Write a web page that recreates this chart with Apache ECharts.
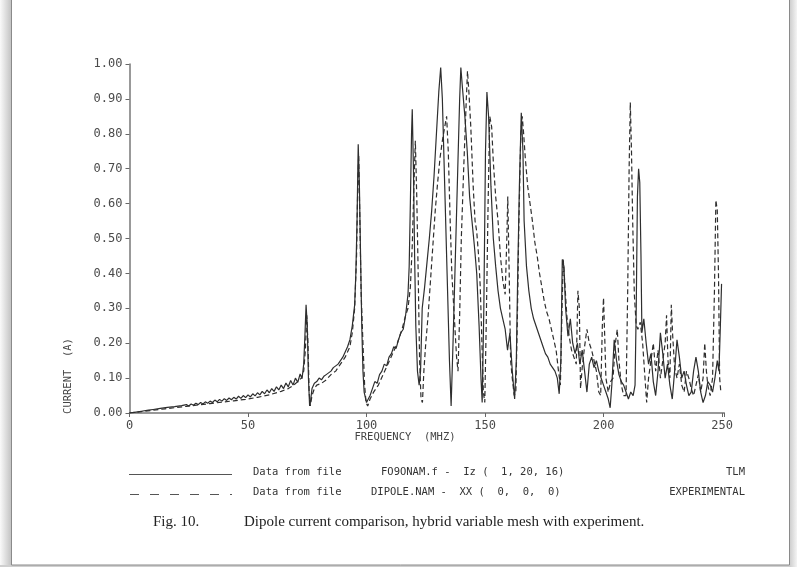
<!DOCTYPE html>
<html>
<head>
<meta charset="utf-8">
<script src="https://cdn.jsdelivr.net/npm/echarts@6/dist/echarts.min.js"></script>
<style>html,body{margin:0;padding:0;background:#fff;}#c{width:797px;height:567px;}</style>
</head>
<body>
<div id="c"></div>
<script>
// ---- data (frequency in MHz, current in A) ----
const tlmFreq = [0,2,5,8,10,13,16,19,22,24,25,26,27,28,29,30,31,32,33,34,35,36,37,38,39,40,41,42,43,44,45,46,47,48,49,50,51,52,53,54,55,56,57,58,59,60,61,62,63,64,65,66,67,68,69,70,71,72,72.8,73.5,74,74.5,75,75.5,76,76.5,77,78,79,80,81,82,83,84,85,86,87,88,89,90,91,92,93,94,95,95.5,96,96.5,97,97.5,98,98.5,99,100,100.6,101.5,102.5,103.5,104.5,105.5,106.5,107.5,108.5,109.5,110.5,111.5,112.5,113.5,114.5,115.5,116.5,117.5,118,118.5,119,119.3,119.8,120.3,120.8,121.5,122.2,122.8,123.5,124.5,125.5,126.5,127.5,128.5,129.5,130.5,131.3,132,133,134,135,135.7,136.5,137.5,138.5,139.3,139.8,140.5,141.5,142.5,143.5,144.5,145.5,146.5,147.5,148.3,148.8,149.5,150.2,150.8,151.5,152.5,153.5,154.5,155.5,156.5,157.5,158.5,159.5,160.5,161.5,162.5,163.2,163.8,164.5,165.3,166,166.5,167.5,168.5,169.5,170.5,171.5,172.5,173.5,174.5,175.5,176.5,177.5,178.5,179.5,180.5,181.3,182,182.6,183.3,184,185,186,187,188,189,190,191,192,193,194,195,196,197,198,199,200,201,202,202.8,203.5,204.5,205.5,206.5,207.5,208.5,209.5,210.5,211.5,212.5,213.3,213.8,214.3,214.8,215.3,215.8,216.2,217,218,219,220,221,222,223,224,225,226,227,228,229,230,231,232,233,234,235,236,237,238,239,240,241,242,243,244,245,246,247,248,248.7,249.3,249.8];
const tlmCurrent = [0,0.002,0.005,0.008,0.010,0.013,0.016,0.018,0.021,0.024,0.020,0.026,0.022,0.028,0.024,0.030,0.026,0.032,0.028,0.034,0.030,0.037,0.032,0.039,0.034,0.041,0.036,0.043,0.038,0.045,0.040,0.048,0.042,0.050,0.044,0.052,0.046,0.055,0.049,0.058,0.052,0.062,0.055,0.066,0.058,0.070,0.062,0.075,0.066,0.080,0.070,0.086,0.075,0.093,0.080,0.100,0.088,0.112,0.098,0.14,0.22,0.31,0.25,0.10,0.02,0.04,0.07,0.085,0.09,0.10,0.095,0.105,0.11,0.115,0.12,0.13,0.135,0.14,0.15,0.16,0.175,0.19,0.21,0.25,0.31,0.40,0.55,0.77,0.65,0.45,0.25,0.12,0.06,0.03,0.025,0.05,0.07,0.09,0.085,0.11,0.12,0.14,0.135,0.16,0.17,0.19,0.185,0.21,0.23,0.24,0.28,0.34,0.42,0.60,0.80,0.87,0.70,0.45,0.25,0.12,0.08,0.12,0.30,0.36,0.43,0.50,0.58,0.68,0.80,0.92,0.99,0.90,0.65,0.40,0.15,0.02,0.20,0.45,0.70,0.90,0.99,0.93,0.85,0.75,0.62,0.55,0.48,0.40,0.25,0.10,0.03,0.30,0.75,0.92,0.85,0.65,0.50,0.42,0.35,0.30,0.27,0.24,0.18,0.23,0.12,0.04,0.15,0.40,0.65,0.86,0.75,0.55,0.42,0.35,0.30,0.27,0.25,0.23,0.21,0.19,0.17,0.16,0.14,0.13,0.12,0.10,0.055,0.15,0.44,0.42,0.30,0.22,0.27,0.20,0.17,0.20,0.14,0.18,0.12,0.06,0.14,0.16,0.13,0.15,0.12,0.10,0.08,0.06,0.04,0.015,0.08,0.21,0.15,0.11,0.09,0.08,0.06,0.04,0.06,0.05,0.08,0.30,0.62,0.70,0.66,0.45,0.23,0.27,0.20,0.14,0.17,0.09,0.05,0.12,0.23,0.17,0.10,0.14,0.08,0.04,0.12,0.21,0.16,0.10,0.12,0.08,0.05,0.06,0.12,0.16,0.12,0.06,0.03,0.05,0.09,0.08,0.06,0.10,0.15,0.12,0.25,0.37];

const expFreq = [0,5,10,15,20,24,29,34,39,44,49,54,59,64,67,69,71,72.5,73.5,74.2,74.8,75.3,75.8,76.3,77,78,79,81,83,85,87,89,91,93,94,95,95.8,96.3,96.7,97.2,97.7,98.5,99.2,99.8,100.5,101.5,103,105,107,109,111,113,115,116.5,117.5,118.5,119.3,120,120.6,121.2,121.8,122.4,123,123.6,124.2,125,126,127,128,129,130,131,132,133,133.8,134.5,135.3,136,137,138,138.6,139.3,140,141,142,142.6,143.2,144,145,145.8,146.5,147.3,148,148.7,149.3,149.9,150.5,151.3,152,152.8,153.5,154.5,155.5,156.5,157.5,158.5,159.2,159.6,160.2,160.8,161.5,162.3,163,163.6,164.3,165.1,165.7,166.3,167,168,169,170,171,172,173,174,175,176,177,178,179,180,181,181.8,182.5,183,183.6,184.5,185.5,186.5,187.5,188.5,189.2,189.8,190.3,191,192,193,194,195,196,197,198,198.8,199.5,200,200.5,201,202,203,204,205,205.8,206.5,207.5,208.5,209.5,210.2,210.8,211.3,211.8,212.3,213,213.8,214.5,215.5,216.5,217.5,218.2,219,220,221,222,223,224,225,226,226.6,227.2,228,228.6,229.2,230,231,232,233,234,235,236,237,238,239,240,241,242,242.7,243.4,244,245,246,246.8,247.4,248,248.5,249,249.5];
const expCurrent = [0,0.004,0.008,0.012,0.016,0.019,0.023,0.027,0.031,0.035,0.039,0.045,0.052,0.062,0.070,0.078,0.09,0.10,0.12,0.18,0.28,0.20,0.06,0.02,0.05,0.07,0.08,0.085,0.095,0.11,0.12,0.14,0.16,0.19,0.23,0.30,0.45,0.65,0.74,0.55,0.35,0.20,0.08,0.03,0.02,0.04,0.06,0.08,0.11,0.14,0.17,0.20,0.24,0.28,0.30,0.36,0.48,0.65,0.78,0.62,0.40,0.15,0.04,0.03,0.12,0.20,0.28,0.38,0.48,0.58,0.66,0.73,0.78,0.82,0.85,0.75,0.55,0.40,0.28,0.16,0.12,0.28,0.50,0.70,0.88,0.98,0.92,0.82,0.65,0.55,0.52,0.45,0.36,0.20,0.06,0.03,0.25,0.60,0.85,0.82,0.72,0.62,0.55,0.45,0.38,0.34,0.50,0.62,0.40,0.15,0.10,0.05,0.06,0.25,0.55,0.80,0.85,0.80,0.73,0.65,0.60,0.55,0.49,0.45,0.40,0.36,0.32,0.29,0.27,0.24,0.21,0.18,0.12,0.08,0.30,0.44,0.38,0.28,0.22,0.18,0.16,0.14,0.35,0.30,0.07,0.13,0.19,0.24,0.20,0.18,0.15,0.12,0.06,0.05,0.25,0.33,0.22,0.10,0.06,0.09,0.10,0.20,0.24,0.15,0.08,0.05,0.05,0.35,0.70,0.89,0.75,0.55,0.34,0.25,0.24,0.26,0.20,0.10,0.03,0.10,0.15,0.20,0.12,0.18,0.10,0.15,0.20,0.28,0.15,0.10,0.31,0.22,0.13,0.10,0.14,0.08,0.06,0.12,0.10,0.07,0.05,0.08,0.11,0.06,0.10,0.20,0.12,0.08,0.05,0.10,0.35,0.61,0.58,0.40,0.10,0.06];

const yTicks = ['0.00','0.10','0.20','0.30','0.40','0.50','0.60','0.70','0.80','0.90','1.00'];
const xTicks = [0,50,100,150,200,250];

const zip = (a, b) => a.map((v, i) => [v, b[i]]);

const chart = echarts.init(document.getElementById('c'), null, {renderer: 'canvas'});
const mono = 'DejaVu Sans Mono';
const ink = '#2e2e2e';

chart.setOption({
  backgroundColor: '#ffffff',
  animation: false,
  grid: {left: 129.5, right: 72.6, top: 64, bottom: 154, containLabel: false},
  xAxis: {
    type: 'value', min: 0, max: 251, interval: 50,
    axisLine: {lineStyle: {color: '#777', width: 1.5}},
    axisTick: {length: 4, lineStyle: {color: '#666'}},
    splitLine: {show: false},
    axisLabel: {
      margin: 7, color: '#4a4a4a', fontFamily: mono, fontSize: 12,
      formatter: v => xTicks.indexOf(v) >= 0 ? String(v) : ''
    }
  },
  yAxis: {
    type: 'value', min: 0, max: 1, interval: 0.1,
    axisLine: {show: true, lineStyle: {color: '#777', width: 1.5}},
    axisTick: {show: true, length: 4, lineStyle: {color: '#666'}},
    splitLine: {show: false},
    axisLabel: {
      margin: 7, color: '#4a4a4a', fontFamily: mono, fontSize: 12,
      formatter: v => yTicks[Math.round(v * 10)]
    }
  },
  series: [
    {
      name: 'TLM', type: 'line', data: zip(tlmFreq, tlmCurrent),
      showSymbol: false, symbol: 'none', clip: true,
      lineStyle: {color: ink, width: 1.2}
    },
    {
      name: 'EXPERIMENTAL', type: 'line', data: zip(expFreq, expCurrent),
      showSymbol: false, symbol: 'none', clip: true,
      lineStyle: {color: ink, width: 1.2, type: [5, 3]}
    }
  ],
  graphic: [
    // page frame and shadow
    {type: 'rect', shape: {x: 0, y: 0, width: 11, height: 567},
     style: {fill: new echarts.graphic.LinearGradient(0, 0, 1, 0, [{offset: 0, color: '#fafafa'}, {offset: 1, color: '#c4c4c4'}])}},
    {type: 'rect', shape: {x: 0, y: 565, width: 797, height: 2},
     style: {fill: '#cfcfcf'}},
    {type: 'rect', shape: {x: 790, y: 0, width: 7, height: 567},
     style: {fill: new echarts.graphic.LinearGradient(0, 0, 1, 0, [{offset: 0, color: '#cfcfcf'}, {offset: 1, color: '#f4f4f4'}])}},
    {type: 'rect', shape: {x: 11.5, y: -1, width: 778, height: 566},
     style: {fill: 'none', stroke: '#8a8a8a', lineWidth: 1}},
    // axis titles
    {type: 'text', x: 68, y: 376, rotation: Math.PI / 2,
     style: {text: 'CURRENT  (A)', fontFamily: mono, fontSize: 10.5, fill: '#444', align: 'center', verticalAlign: 'middle'}},
    {type: 'text', x: 405, y: 437,
     style: {text: 'FREQUENCY  (MHZ)', fontFamily: mono, fontSize: 10.5, fill: '#444', align: 'center', verticalAlign: 'middle'}},
    // legend rows
    {type: 'line', shape: {x1: 129, y1: 474.5, x2: 232, y2: 474.5},
     style: {stroke: '#555', lineWidth: 1.1}},
    {type: 'line', shape: {x1: 130, y1: 494.5, x2: 232, y2: 494.5},
     style: {stroke: '#555', lineWidth: 1.1, lineDash: [9, 11]}},
    {type: 'text', x: 253, y: 472, style: {text: 'Data from file', fontFamily: mono, fontSize: 10.5, fill: '#333', verticalAlign: 'middle'}},
    {type: 'text', x: 381, y: 472, style: {text: 'FO9ONAM.f -  Iz (  1, 20, 16)', fontFamily: mono, fontSize: 10.5, fill: '#333', verticalAlign: 'middle'}},
    {type: 'text', x: 745, y: 472, style: {text: 'TLM', fontFamily: mono, fontSize: 10.5, fill: '#333', align: 'right', verticalAlign: 'middle'}},
    {type: 'text', x: 253, y: 492, style: {text: 'Data from file', fontFamily: mono, fontSize: 10.5, fill: '#333', verticalAlign: 'middle'}},
    {type: 'text', x: 371, y: 492, style: {text: 'DIPOLE.NAM -  XX (  0,  0,  0)', fontFamily: mono, fontSize: 10.5, fill: '#333', verticalAlign: 'middle'}},
    {type: 'text', x: 745, y: 492, style: {text: 'EXPERIMENTAL', fontFamily: mono, fontSize: 10.5, fill: '#333', align: 'right', verticalAlign: 'middle'}},
    // caption
    {type: 'text', x: 153, y: 522, style: {text: 'Fig. 10.', fontFamily: 'Liberation Serif', fontSize: 15, fill: '#222', verticalAlign: 'middle'}},
    {type: 'text', x: 244, y: 522, style: {text: 'Dipole current comparison, hybrid variable mesh with experiment.', fontFamily: 'Liberation Serif', fontSize: 15, fill: '#222', verticalAlign: 'middle'}}
  ]
});
</script>
</body>
</html>
